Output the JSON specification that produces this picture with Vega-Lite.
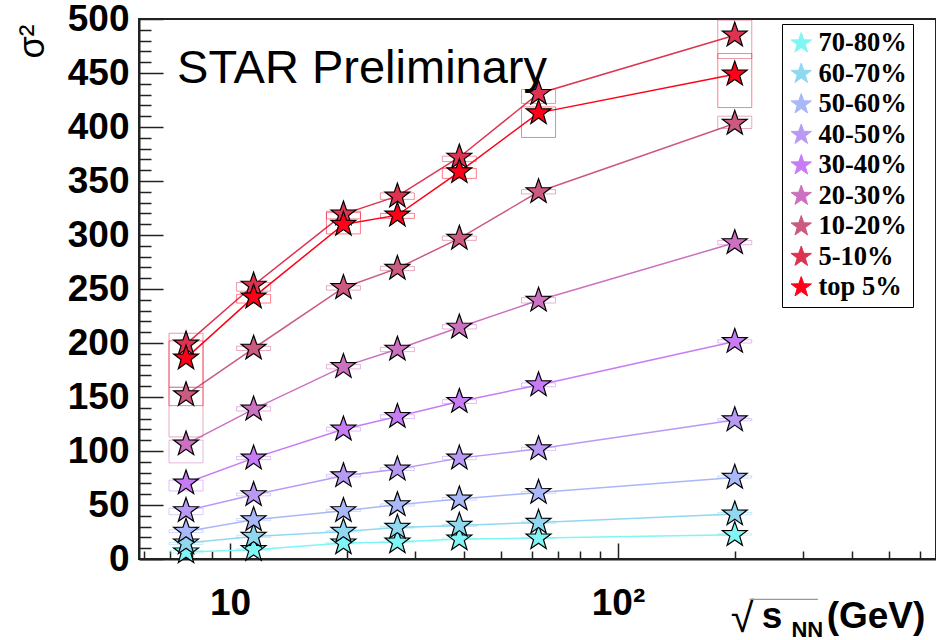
{
  "$schema": "https://vega.github.io/schema/vega-lite/v6.json",
  "autosize": {"type": "none"},
  "padding": {"left": 139, "top": 19, "right": 0, "bottom": 81},
  "width": 797,
  "height": 540,
  "background": "white",
  "config": {
    "view": {"stroke": "#222", "strokeWidth": 2},
    "axis": {"grid": false, "domainColor": "#222", "tickColor": "#222", "labelColor": "black", "titleColor": "black"}
  },
  "data": {"values": [
    {"c": "70-80%", "E": 7.7, "v": 6.5, "lo": 5.5, "hi": 7.5},
    {"c": "70-80%", "E": 11.5, "v": 8.6, "lo": 8, "hi": 9.5},
    {"c": "70-80%", "E": 19.6, "v": 14.8, "lo": 14, "hi": 15.5},
    {"c": "70-80%", "E": 27, "v": 15.7, "lo": 15, "hi": 16.5},
    {"c": "70-80%", "E": 39, "v": 18.5, "lo": 18, "hi": 19.5},
    {"c": "70-80%", "E": 62.4, "v": 19.4, "lo": 19, "hi": 20},
    {"c": "70-80%", "E": 200, "v": 22.5, "lo": 22, "hi": 23.5},
    {"c": "60-70%", "E": 7.7, "v": 14.8, "lo": 13.5, "hi": 15.5},
    {"c": "60-70%", "E": 11.5, "v": 20.9, "lo": 20, "hi": 22},
    {"c": "60-70%", "E": 19.6, "v": 25.5, "lo": 25, "hi": 26.5},
    {"c": "60-70%", "E": 27, "v": 29.2, "lo": 28.5, "hi": 30},
    {"c": "60-70%", "E": 39, "v": 31.1, "lo": 30, "hi": 32},
    {"c": "60-70%", "E": 62.4, "v": 33.9, "lo": 33, "hi": 35},
    {"c": "60-70%", "E": 200, "v": 41.6, "lo": 41, "hi": 43},
    {"c": "50-60%", "E": 7.7, "v": 25.5, "lo": 24.5, "hi": 27},
    {"c": "50-60%", "E": 11.5, "v": 36.3, "lo": 35.5, "hi": 37.5},
    {"c": "50-60%", "E": 19.6, "v": 44.7, "lo": 44, "hi": 46},
    {"c": "50-60%", "E": 27, "v": 50.2, "lo": 49, "hi": 51},
    {"c": "50-60%", "E": 39, "v": 55.5, "lo": 54.5, "hi": 57},
    {"c": "50-60%", "E": 62.4, "v": 61.6, "lo": 60.5, "hi": 62.5},
    {"c": "50-60%", "E": 200, "v": 75.5, "lo": 75, "hi": 77},
    {"c": "40-50%", "E": 7.7, "v": 44.7, "lo": 41, "hi": 47},
    {"c": "40-50%", "E": 11.5, "v": 59.5, "lo": 58.5, "hi": 61},
    {"c": "40-50%", "E": 19.6, "v": 77.0, "lo": 76, "hi": 78.5},
    {"c": "40-50%", "E": 27, "v": 83.2, "lo": 82, "hi": 84.5},
    {"c": "40-50%", "E": 39, "v": 93.4, "lo": 92, "hi": 95},
    {"c": "40-50%", "E": 62.4, "v": 102.0, "lo": 100.5, "hi": 103.5},
    {"c": "40-50%", "E": 200, "v": 128.8, "lo": 128, "hi": 130},
    {"c": "30-40%", "E": 7.7, "v": 70.3, "lo": 63, "hi": 73},
    {"c": "30-40%", "E": 11.5, "v": 93.4, "lo": 92, "hi": 95},
    {"c": "30-40%", "E": 19.6, "v": 120.2, "lo": 118.5, "hi": 122},
    {"c": "30-40%", "E": 27, "v": 131.9, "lo": 130, "hi": 133.5},
    {"c": "30-40%", "E": 39, "v": 145.8, "lo": 144, "hi": 147.5},
    {"c": "30-40%", "E": 62.4, "v": 161.2, "lo": 159.5, "hi": 163},
    {"c": "30-40%", "E": 200, "v": 201.3, "lo": 200, "hi": 203},
    {"c": "20-30%", "E": 7.7, "v": 106.4, "lo": 89, "hi": 110},
    {"c": "20-30%", "E": 11.5, "v": 138.7, "lo": 137, "hi": 141},
    {"c": "20-30%", "E": 19.6, "v": 178.1, "lo": 176, "hi": 180},
    {"c": "20-30%", "E": 27, "v": 194.2, "lo": 192, "hi": 196},
    {"c": "20-30%", "E": 39, "v": 214.6, "lo": 213, "hi": 217},
    {"c": "20-30%", "E": 62.4, "v": 239.5, "lo": 237, "hi": 242},
    {"c": "20-30%", "E": 200, "v": 292.8, "lo": 291, "hi": 295},
    {"c": "10-20%", "E": 7.7, "v": 152, "lo": 113, "hi": 159},
    {"c": "10-20%", "E": 11.5, "v": 195.1, "lo": 193, "hi": 197},
    {"c": "10-20%", "E": 19.6, "v": 251.2, "lo": 249, "hi": 253},
    {"c": "10-20%", "E": 27, "v": 269.1, "lo": 267, "hi": 271},
    {"c": "10-20%", "E": 39, "v": 296.9, "lo": 295, "hi": 299},
    {"c": "10-20%", "E": 62.4, "v": 340, "lo": 338, "hi": 342},
    {"c": "10-20%", "E": 200, "v": 403.3, "lo": 398.6, "hi": 410},
    {"c": "5-10%", "E": 7.7, "v": 199, "lo": 159, "hi": 209},
    {"c": "5-10%", "E": 11.5, "v": 253.5, "lo": 248, "hi": 256},
    {"c": "5-10%", "E": 19.6, "v": 319.4, "lo": 315, "hi": 322},
    {"c": "5-10%", "E": 27, "v": 336, "lo": 333, "hi": 339},
    {"c": "5-10%", "E": 39, "v": 372, "lo": 368, "hi": 373},
    {"c": "5-10%", "E": 62.4, "v": 431, "lo": 421.8, "hi": 434.7},
    {"c": "5-10%", "E": 200, "v": 485, "lo": 463.4, "hi": 499},
    {"c": "top 5%", "E": 7.7, "v": 186, "lo": 142, "hi": 202},
    {"c": "top 5%", "E": 11.5, "v": 242.5, "lo": 237, "hi": 245},
    {"c": "top 5%", "E": 19.6, "v": 309.8, "lo": 301, "hi": 321},
    {"c": "top 5%", "E": 27, "v": 318.4, "lo": 315.4, "hi": 320},
    {"c": "top 5%", "E": 39, "v": 358.5, "lo": 352.4, "hi": 361.6},
    {"c": "top 5%", "E": 62.4, "v": 413.1, "lo": 390.3, "hi": 418.6},
    {"c": "top 5%", "E": 200, "v": 448.9, "lo": 418, "hi": 468}
  ]},
  "resolve": {"axis": {"x": "independent", "y": "independent"}},
  "layer": [
    {
      "mark": {"type": "line", "strokeWidth": 1.5},
      "encoding": {
        "x": {"field": "E", "type": "quantitative",
          "scale": {"type": "log", "domain": [6, 641], "nice": false},
          "axis": {"orient": "bottom", "values": [10, 100], "tickSize": -16, "tickWidth": 1.5, "domainWidth": 2,
            "labelExpr": "datum.value == 100 ? '10²' : '10'", "labelFont": "Liberation Sans",
            "labelFontWeight": "bold", "labelFontSize": 37, "labelPadding": 42, "labelFlush": false,
            "labelOverlap": false, "title": null}},
        "y": {"field": "v", "type": "quantitative",
          "scale": {"domain": [0, 500], "nice": false},
          "axis": {"orient": "left", "values": [0, 50, 100, 150, 200, 250, 300, 350, 400, 450, 500], "tickSize": -24,
            "tickWidth": 1.5, "domainWidth": 2, "labelFont": "Liberation Sans", "labelFontWeight": "bold",
            "labelFontSize": 37, "labelPadding": 34, "labelBaseline": "middle", "labelOverlap": false, "labelFlush": false,
            "title": "σ²", "titleFont": "Liberation Sans", "titleFontWeight": "normal", "titleFontSize": 36,
            "titleAngle": -90, "titleX": -96, "titleY": 22, "titleAlign": "center", "titleBaseline": "alphabetic"}},
        "color": {"field": "c", "type": "nominal",
          "scale": {"domain": ["70-80%", "60-70%", "50-60%", "40-50%", "30-40%", "20-30%", "10-20%", "5-10%", "top 5%"],
            "range": ["#80f5f5", "#90d8f0", "#a8b8f8", "#b89af5", "#c77cf5", "#cc70c0", "#cc5a80", "#dd3350", "#ff0018"]}}
      }
    },
    {
      "mark": {"type": "bar", "width": 34, "filled": false, "strokeWidth": 1, "strokeOpacity": 0.5},
      "encoding": {
        "x": {"field": "E", "type": "quantitative",
          "axis": {"orient": "bottom", "values": [6, 7, 8, 9, 20, 30, 40, 50, 60, 70, 80, 90, 200, 300, 400, 500, 600],
            "tickSize": -8, "tickWidth": 1.5, "labels": false, "domain": false, "title": null}},
        "y": {"field": "lo", "type": "quantitative",
          "axis": {"orient": "left", "values": [10, 20, 30, 40, 60, 70, 80, 90, 110, 120, 130, 140, 160, 170, 180, 190, 210, 220, 230, 240, 260, 270, 280, 290, 310, 320, 330, 340, 360, 370, 380, 390, 410, 420, 430, 440, 460, 470, 480, 490],
            "tickSize": -12, "tickWidth": 1.5, "labels": false, "domain": false, "title": null}},
        "y2": {"field": "hi"},
        "color": {"field": "c", "type": "nominal"}
      }
    },
    {
      "mark": {"type": "point", "shape": "M0,-1L0.235,-0.324L0.951,-0.309L0.38,0.124L0.588,0.809L0,0.4L-0.588,0.809L-0.38,0.124L-0.951,-0.309L-0.235,-0.324Z", "filled": true, "size": 680, "stroke": "black", "strokeWidth": 1.2, "opacity": 1},
      "encoding": {
        "x": {"field": "E", "type": "quantitative", "axis": null},
        "y": {"field": "v", "type": "quantitative", "axis": null},
        "color": {"field": "c", "type": "nominal", "legend": {
          "title": null, "orient": "none", "legendX": 643, "legendY": 5,
          "strokeColor": "black", "fillColor": "white",
          "padding": 6, "labelFont": "Liberation Serif", "labelFontWeight": "bold",
          "labelFontSize": 26.5, "labelLimit": 300, "labelColor": "black",
          "symbolType": "M0,-1L0.235,-0.324L0.951,-0.309L0.38,0.124L0.588,0.809L0,0.4L-0.588,0.809L-0.38,0.124L-0.951,-0.309L-0.235,-0.324Z",
          "symbolSize": 460, "symbolStrokeColor": "black", "symbolStrokeWidth": 1, "symbolOpacity": 1,
          "rowPadding": 3.5, "labelOffset": 4}}
      }
    },
    {
      "data": {"values": [{}]},
      "mark": {"type": "text", "text": "STAR Preliminary", "font": "Liberation Sans", "fontSize": 47, "align": "left", "baseline": "alphabetic", "color": "black"},
      "encoding": {"x": {"datum": 7.3, "type": "quantitative", "axis": null}, "y": {"datum": 440.5, "type": "quantitative", "axis": null}}
    },
    {
      "data": {"values": [{}]},
      "mark": {"type": "text", "text": "√", "font": "Liberation Sans", "fontSize": 42, "align": "left", "baseline": "alphabetic", "color": "black"},
      "encoding": {"x": {"datum": 195.3, "type": "quantitative", "axis": null}, "y": {"datum": -68, "type": "quantitative", "axis": null}}
    },
    {
      "data": {"values": [{}]},
      "mark": {"type": "text", "text": "s", "font": "Liberation Sans", "fontWeight": "bold", "fontSize": 37, "align": "left", "baseline": "alphabetic", "color": "black"},
      "encoding": {"x": {"datum": 234.6, "type": "quantitative", "axis": null}, "y": {"datum": -63.5, "type": "quantitative", "axis": null}}
    },
    {
      "data": {"values": [{}]},
      "mark": {"type": "text", "text": "NN", "font": "Liberation Sans", "fontWeight": "bold", "fontSize": 22, "align": "left", "baseline": "alphabetic", "color": "black"},
      "encoding": {"x": {"datum": 280, "type": "quantitative", "axis": null}, "y": {"datum": -72, "type": "quantitative", "axis": null}}
    },
    {
      "data": {"values": [{}]},
      "mark": {"type": "text", "text": "(GeV)", "font": "Liberation Sans", "fontWeight": "bold", "fontSize": 37, "align": "left", "baseline": "alphabetic", "color": "black"},
      "encoding": {"x": {"datum": 345, "type": "quantitative", "axis": null}, "y": {"datum": -64, "type": "quantitative", "axis": null}}
    },
    {
      "data": {"values": [{}]},
      "mark": {"type": "rule", "color": "#999", "strokeWidth": 1.2},
      "encoding": {"x": {"datum": 218.3, "type": "quantitative", "axis": null}, "x2": {"datum": 327.6}, "y": {"datum": -37.3, "type": "quantitative", "axis": null}}
    }
  ]
}
